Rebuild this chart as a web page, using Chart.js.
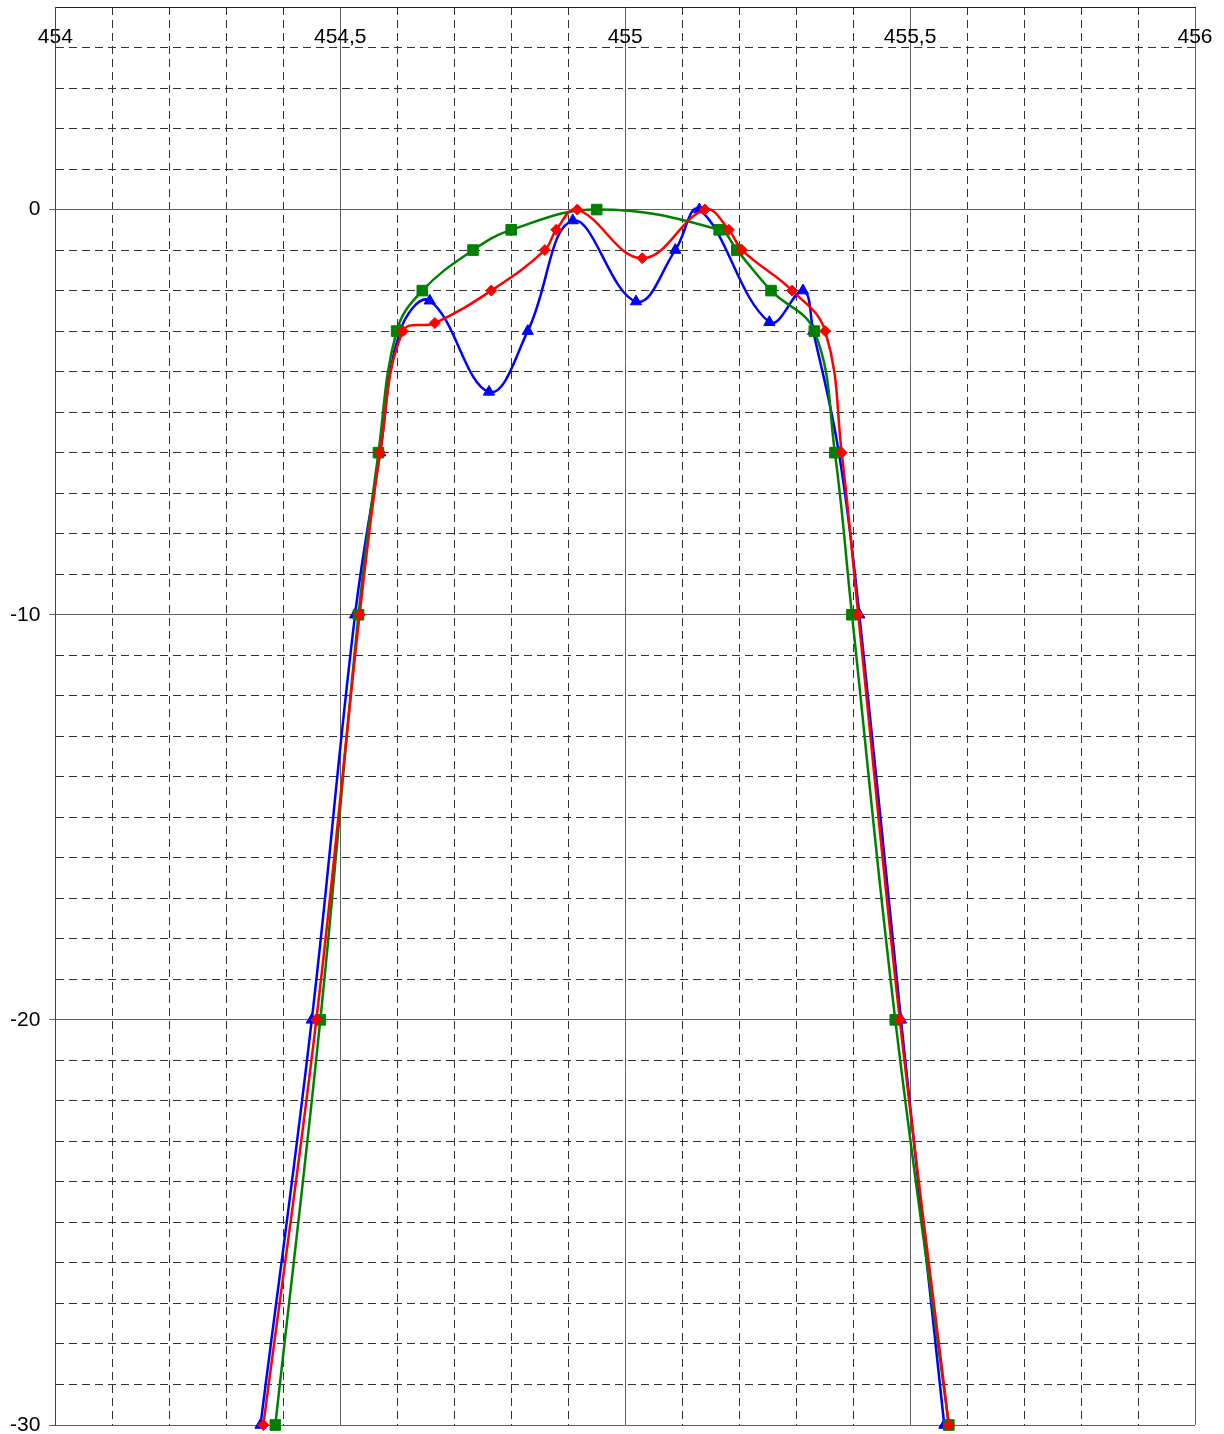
<!DOCTYPE html>
<html>
<head>
<meta charset="utf-8">
<script src="https://cdn.jsdelivr.net/npm/chart.js@4.4.1/dist/chart.umd.min.js"></script>
<style>
  body { margin: 0; background: #fff; }
</style>
</head>
<body>
<canvas id="chart" width="1224" height="1434"></canvas>
<script>
// frequency (x) and level (y) for each trace
let blueX = [454.360, 454.450, 454.526, 454.570, 454.605, 454.657, 454.761, 454.829, 454.908, 455.019,
  455.088, 455.130, 455.253, 455.312, 455.330, 455.375, 455.411, 455.484, 455.560];
let blueY = [-30, -20, -10, -6, -3, -2.25, -4.5, -3, -0.27, -2.27, -1, 0, -2.78, -2, -3, -6, -10, -20, -30];

let redX = [454.365, 454.458, 454.534, 454.570, 454.610, 454.666, 454.765, 454.859, 454.879, 454.916,
  455.030, 455.140, 455.182, 455.205, 455.293, 455.351, 455.380, 455.409, 455.482, 455.568];
let redY = [-30, -20, -10, -6, -3, -2.8, -2, -1, -0.5, 0, -1.2, 0, -0.5, -1, -2, -3, -6, -10, -20, -30];

let greenX = [454.386, 454.465, 454.532, 454.567, 454.599, 454.644, 454.733, 454.800, 454.950, 455.165,
  455.196, 455.256, 455.332, 455.368, 455.398, 455.474, 455.568];
let greenY = [-30, -20, -10, -6, -3, -2, -1, -0.5, 0, -0.5, -1, -2, -3, -6, -10, -20, -30];

// labelled ticks
let xMajor = [454, 454.5, 455, 455.5, 456];
let yMajor = [-30, -20, -10, 0];

function toPoints(xs, ys) {
  return xs.map((x, i) => ({ x: x, y: ys[i] }));
}

function isMajor(list, v) {
  return list.some(m => Math.abs(m - v) < 1e-6);
}

// labels may stick out of the plot, like the original
function noEdgePadding(scale) {
  scale.paddingLeft = 0;
  scale.paddingRight = 0;
  scale.paddingTop = 0;
  scale.paddingBottom = 0;
}

let lineOpts = {
  showLine: true,
  tension: 0.4,
  borderWidth: 2.5,
  pointBorderWidth: 1,
  clip: false,
};

let ctx = document.getElementById('chart').getContext('2d');
let chart = new Chart(ctx, {
  type: 'scatter',
  data: {
    datasets: [{
      ...lineOpts,
      label: 'red',
      data: toPoints(redX, redY),
      borderColor: '#ff0000',
      backgroundColor: '#ff0000',
      pointStyle: 'rectRot',
      pointRadius: 5.5,
    }, {
      ...lineOpts,
      label: 'green',
      data: toPoints(greenX, greenY),
      borderColor: '#008000',
      backgroundColor: '#008000',
      pointStyle: 'rect',
      pointRadius: 7.5,
    }, {
      ...lineOpts,
      label: 'blue',
      data: toPoints(blueX, blueY),
      borderColor: '#0000ff',
      backgroundColor: '#0000ff',
      pointStyle: 'triangle',
      pointRadius: 6.5,
    }]
  },
  options: {
    responsive: false,
    animation: false,
    layout: {
      autoPadding: false,
      padding: { left: 1, top: 7, right: 29, bottom: 9 }
    },
    plugins: {
      legend: { display: false },
      tooltip: { enabled: false },
    },
    scales: {
      x: {
        type: 'linear',
        position: { y: 5 },
        min: 454,
        max: 456,
        afterFit: noEdgePadding,
        grid: {
          drawTicks: false,
          color: c => isMajor(xMajor, c.tick.value) ? '#606060' : '#333',
          lineWidth: 1,
        },
        border: {
          display: true,
          color: '#222',
          width: 1,
          dash: c => (c.tick && !isMajor(xMajor, c.tick.value)) ? [8, 5] : [],
        },
        ticks: {
          stepSize: 0.1,
          autoSkip: false,
          maxRotation: 0,
          padding: 18,
          color: '#000',
          font: { family: 'Liberation Sans', size: 21 },
          callback: v => isMajor(xMajor, v) ? String(Math.round(v * 10) / 10).replace('.', ',') : '',
        },
      },
      y: {
        type: 'linear',
        position: 'left',
        min: -30,
        max: 5,
        afterFit: noEdgePadding,
        grid: {
          tickLength: 6,
          color: c => isMajor(yMajor, c.tick.value) ? '#606060' : '#333',
          tickColor: c => isMajor(yMajor, c.tick.value) ? '#606060' : 'rgba(0,0,0,0)',
          lineWidth: 1,
        },
        border: {
          display: true,
          color: '#444',
          width: 1,
          dash: c => (c.tick && !isMajor(yMajor, c.tick.value)) ? [8, 5] : [],
        },
        ticks: {
          stepSize: 1,
          autoSkip: false,
          padding: 9,
          color: '#000',
          font: { family: 'Liberation Sans', size: 21 },
          callback: v => isMajor(yMajor, v) ? String(Math.round(v)) : '',
        },
      },
    },
  }
});
</script>
</body>
</html>
